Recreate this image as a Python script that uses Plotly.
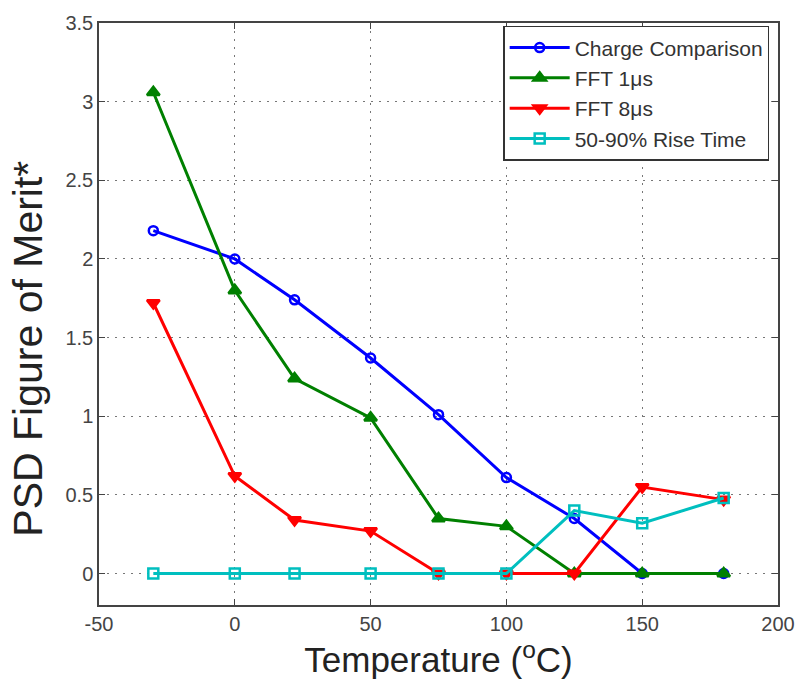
import plotly.graph_objects as go

temps = [-30, 0, 22, 50, 75, 100, 125, 150, 180]
charge_comparison = [2.18, 2.0, 1.74, 1.37, 1.01, 0.61, 0.35, 0.0, 0.0]
fft_1us = [3.06, 1.80, 1.24, 0.99, 0.35, 0.30, 0.0, 0.0, 0.0]
fft_8us = [1.72, 0.62, 0.34, 0.27, 0.0, 0.0, 0.0, 0.55, 0.47]
rise_time = [0.0, 0.0, 0.0, 0.0, 0.0, 0.0, 0.40, 0.32, 0.48]

x_ticks = [-50, 0, 50, 100, 150, 200]
x_tick_labels = ["-50", "0", "50", "100", "150", "200"]
y_ticks = [0, 0.5, 1, 1.5, 2, 2.5, 3, 3.5]
y_tick_labels = ["0", "0.5", "1", "1.5", "2", "2.5", "3", "3.5"]

FONT = "Liberation Sans, Arial, sans-serif"

series = [
    ("Charge Comparison", charge_comparison, "#0000FF", "circle-open", 9),
    ("FFT 1\u03bcs", fft_1us, "#008000", "triangle-up", 11),
    ("FFT 8\u03bcs", fft_8us, "#FF0000", "triangle-down", 11),
    ("50-90% Rise Time", rise_time, "#00BFBF", "square-open", 10),
]

fig = go.Figure()
for name, vals, color, sym, size in series:
    fig.add_trace(go.Scatter(
        x=temps, y=vals, name=name, mode="lines+markers",
        line=dict(color=color, width=3),
        marker=dict(symbol=sym, size=size, color=color,
                    line=dict(color=color, width=2.5)),
    ))

axis_common = dict(
    showline=True, linecolor="#444444", linewidth=1.5, mirror="ticks",
    ticks="inside", ticklen=6, tickcolor="#444444",
    showgrid=True, gridcolor="#777777", griddash="2px,6px", gridwidth=1,
    zeroline=False,
    tickfont=dict(family=FONT, size=20, color="#444444"),
)

fig.update_xaxes(range=[-50, 200], tickvals=x_ticks, ticktext=x_tick_labels,
                 title=dict(text="Temperature (<sup>o</sup>C)",
                            font=dict(family=FONT, size=35, color="#222222"),
                            standoff=14),
                 **axis_common)
fig.update_yaxes(range=[-0.2, 3.5], tickvals=y_ticks, ticktext=y_tick_labels,
                 **axis_common)

fig.add_annotation(
    text="PSD Figure of Merit*", textangle=-90,
    xref="paper", yref="paper", x=-0.105, y=0.44,
    xanchor="center", yanchor="middle", showarrow=False,
    font=dict(family=FONT, size=41, color="#222222"),
)

fig.update_layout(
    width=807, height=690,
    margin=dict(l=99, r=22, t=19, b=85),
    paper_bgcolor="white", plot_bgcolor="white",
    font=dict(family=FONT),
    legend=dict(
        x=0.987, y=0.995, xanchor="right", yanchor="top",
        bgcolor="white", bordercolor="#333333", borderwidth=1.5,
        font=dict(size=21, color="#333333"),
        itemwidth=60, tracegroupgap=3,
    ),
    showlegend=True,
)

fig.write_html("out.html")
